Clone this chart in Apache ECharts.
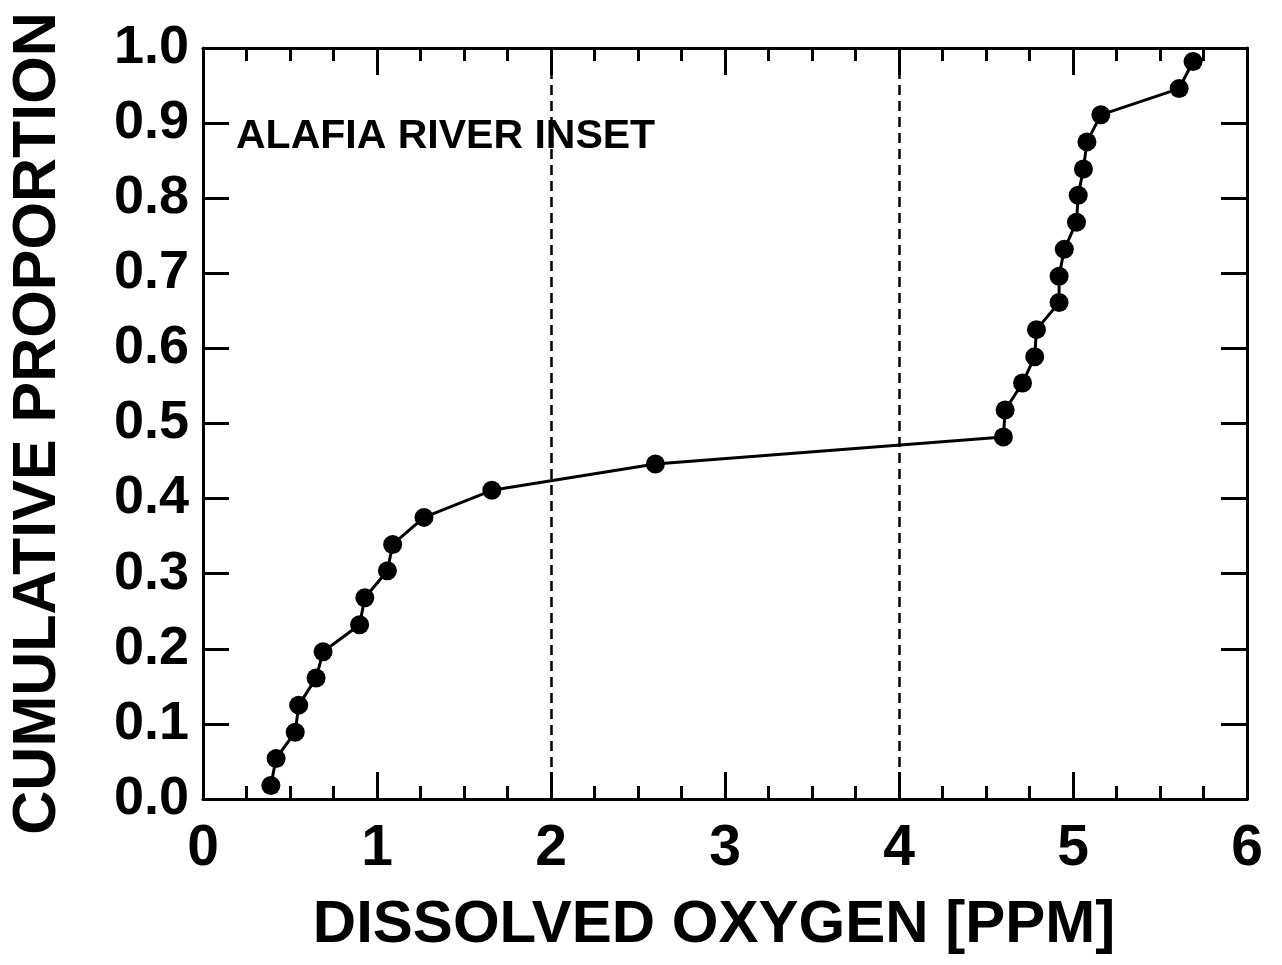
<!DOCTYPE html>
<html>
<head>
<meta charset="utf-8">
<title>Alafia River Inset - Dissolved Oxygen</title>
<script src="https://cdn.jsdelivr.net/npm/echarts@6/dist/echarts.min.js"></script>
<style>
  html, body { margin: 0; padding: 0; background: #ffffff; }
  #chart { width: 1282px; height: 965px; }
</style>
</head>
<body>
<div id="chart"></div>
<script>
// Dissolved oxygen readings (ppm), sorted ascending
const doValues = [
  0.39, 0.42, 0.53, 0.55, 0.65, 0.69, 0.90, 0.93, 1.06, 1.09,
  1.27, 1.66, 2.60, 4.60, 4.61, 4.71, 4.78, 4.79, 4.92, 4.92,
  4.95, 5.02, 5.03, 5.06, 5.08, 5.16, 5.61, 5.69
];
// Cumulative proportion for each reading
const cumProp = [
  0.018, 0.054, 0.089, 0.125, 0.161, 0.196, 0.232, 0.268, 0.304, 0.339,
  0.375, 0.411, 0.446, 0.482, 0.518, 0.554, 0.589, 0.625, 0.661, 0.696,
  0.732, 0.768, 0.804, 0.839, 0.875, 0.911, 0.946, 0.982
];
// Reference thresholds (ppm) drawn as dashed verticals
const thresholds = [2, 4];

const xLabel = 'DISSOLVED OXYGEN [PPM]';
const yLabel = 'CUMULATIVE PROPORTION';
const siteLabel = 'ALAFIA RIVER INSET';

const FONT = '"Liberation Sans", Arial, Helvetica, sans-serif';
const INK = '#000000';

const chart = echarts.init(document.getElementById('chart'), null, { renderer: 'canvas' });

const frameLine = { show: true, onZero: false, lineStyle: { color: INK, width: 3 } };

const xCommon = {
  type: 'value', min: 0, max: 6, interval: 1,
  axisLine: frameLine,
  axisTick: { show: true, inside: true, length: 27, lineStyle: { color: INK, width: 3 } },
  minorTick: { show: true, splitNumber: 4, length: 13, lineStyle: { color: INK, width: 3 } },
  splitLine: { show: false },
  minorSplitLine: { show: false }
};
const yCommon = {
  type: 'value', min: 0, max: 1, interval: 0.1,
  axisLine: frameLine,
  axisTick: { show: true, inside: true, length: 26, lineStyle: { color: INK, width: 3 } },
  splitLine: { show: false }
};

chart.setOption({
  animation: false,
  backgroundColor: '#ffffff',
  grid: { left: 197, right: 35, top: 48, bottom: 166, containLabel: false },
  xAxis: [
    Object.assign({}, xCommon, {
      position: 'bottom',
      name: xLabel, nameLocation: 'middle', nameGap: 96,
      nameTextStyle: {
        fontFamily: FONT, fontWeight: 'bold', fontSize: 60, color: INK,
        padding: [0, 22, 0, 0]
      },
      axisLabel: {
        show: true, margin: 22,
        fontFamily: FONT, fontWeight: 'bold', fontSize: 57, color: INK
      }
    }),
    Object.assign({}, xCommon, { position: 'top', axisLabel: { show: false } })
  ],
  yAxis: [
    Object.assign({}, yCommon, {
      position: 'left',
      name: yLabel, nameLocation: 'middle', nameRotate: 90, nameGap: 134,
      nameTextStyle: { fontFamily: FONT, fontWeight: 'bold', fontSize: 61, color: INK },
      axisLabel: {
        show: true, margin: 14,
        fontFamily: FONT, fontWeight: 'bold', fontSize: 54, color: INK,
        formatter: v => v.toFixed(1)
      }
    }),
    Object.assign({}, yCommon, { position: 'right', axisLabel: { show: false } })
  ],
  graphic: [{
    type: 'text', left: 236, top: 116,
    style: { text: siteLabel, fontFamily: FONT, fontWeight: 'bold', fontSize: 41, fill: INK }
  }],
  series: [{
    type: 'line',
    xAxisIndex: 0, yAxisIndex: 0,
    data: doValues.map((x, i) => [x, cumProp[i]]),
    symbol: 'circle', symbolSize: 19,
    itemStyle: { color: INK },
    lineStyle: { color: INK, width: 3 },
    markLine: {
      silent: true, symbol: ['none', 'none'],
      label: { show: false },
      lineStyle: { color: INK, width: 2.5, type: [10, 6] },
      data: thresholds.map(t => ({ xAxis: t }))
    }
  }]
});
</script>
</body>
</html>
